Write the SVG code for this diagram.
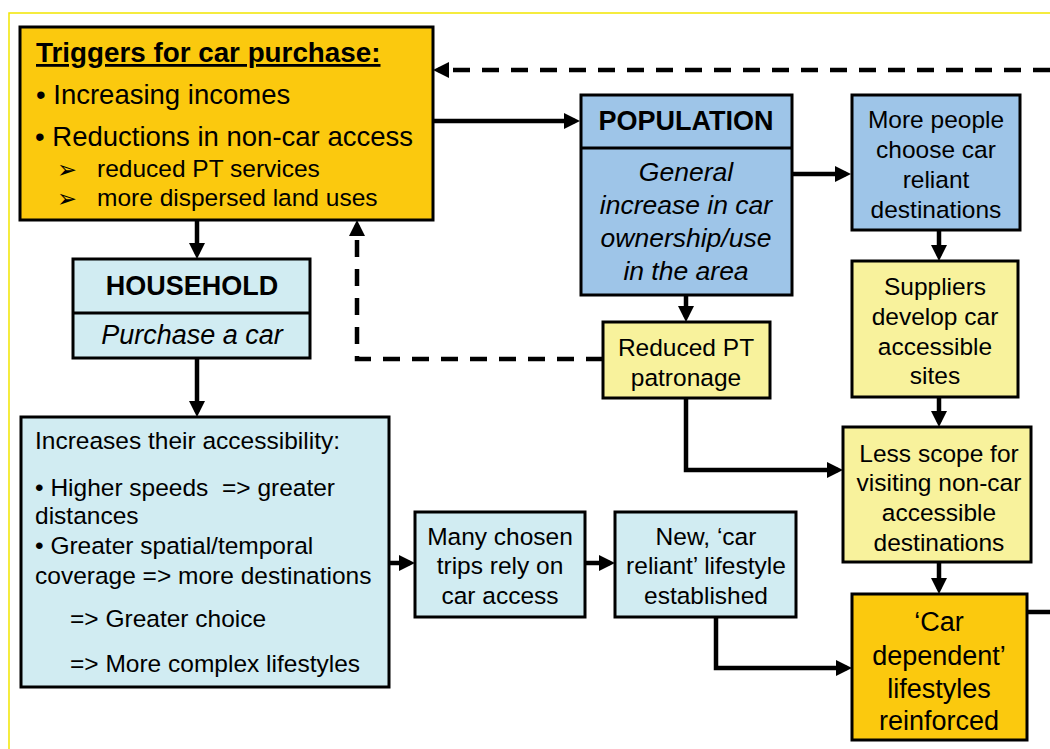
<svg xmlns="http://www.w3.org/2000/svg" width="1050" height="749" viewBox="0 0 1050 749">
<style>
text{font-family:"Liberation Sans",Arial,sans-serif;fill:#000}
.box{stroke:#000;stroke-width:3}
.gold{fill:#FBC90E}
.lb{fill:#D1ECF2}
.blue{fill:#9EC5E8}
.yel{fill:#F8F29C}
.c{text-anchor:middle}
.s24{font-size:24.5px}
.b27{font-size:27px;font-weight:bold}
.i26{font-size:26.5px;font-style:italic}
.conn{fill:none;stroke:#000;stroke-width:4.5}
.dash{stroke-dasharray:17 12}
.tri{font-family:"DejaVu Sans",sans-serif;font-size:17px}
</style>
<defs>
<marker id="arr" markerUnits="userSpaceOnUse" markerWidth="18" markerHeight="18" refX="11" refY="8" orient="auto">
<path d="M0,0 L16,8 L0,16 z" fill="#000"/>
</marker>
</defs>
<rect width="1050" height="749" fill="#fff"/>
<path d="M9,749 V13 H1050" fill="none" stroke="#F2E600" stroke-width="1.5"/>

<g id="connectors">
<path class="conn" d="M433,121 H575" marker-end="url(#arr)"/>
<path class="conn" d="M197,220 V254" marker-end="url(#arr)"/>
<path class="conn" d="M197,358 V412" marker-end="url(#arr)"/>
<path class="conn" d="M389,563 H410" marker-end="url(#arr)"/>
<path class="conn" d="M585,563 H610" marker-end="url(#arr)"/>
<path class="conn" d="M716,617 V668 H847" marker-end="url(#arr)"/>
<path class="conn" d="M792,174 H846" marker-end="url(#arr)"/>
<path class="conn" d="M939,230 V256" marker-end="url(#arr)"/>
<path class="conn" d="M939,397 V422" marker-end="url(#arr)"/>
<path class="conn" d="M939,562 V589" marker-end="url(#arr)"/>
<path class="conn" d="M686,295 V317" marker-end="url(#arr)"/>
<path class="conn" d="M686,398 V470 H838" marker-end="url(#arr)"/>
<path class="conn dash" d="M603,359 H357 V225" marker-end="url(#arr)"/>
<path class="conn" d="M1027,612 H1050"/>
<path class="conn dash" d="M1050,70 H438" marker-end="url(#arr)"/>
</g>

<g id="triggers">
<rect class="box gold" x="20" y="27" width="413" height="193"/>
<text x="36" y="62" font-size="27.8" font-weight="bold" text-decoration="underline">Triggers for car purchase:</text>
<text x="36" y="104" font-size="27.5">• Increasing incomes</text>
<text x="35" y="146" font-size="27.5">• Reductions in non-car access</text>
<text class="tri" transform="translate(57,178) scale(1.4,1.45)">➢</text>
<text x="97" y="177" font-size="24.5">reduced PT services</text>
<text class="tri" transform="translate(57,207) scale(1.4,1.45)">➢</text>
<text x="97" y="206" font-size="24.5">more dispersed land uses</text>
</g>

<g id="household">
<rect class="box lb" x="73" y="259" width="237" height="99"/>
<line x1="73" y1="313" x2="310" y2="313" stroke="#000" stroke-width="3"/>
<text x="192" y="295" class="b27 c">HOUSEHOLD</text>
<text x="192" y="344" class="c" font-size="27" font-style="italic">Purchase a car</text>
</g>

<g id="accessibility">
<rect class="box lb" x="21" y="417" width="368" height="270"/>
<text x="35" y="449" class="s24">Increases their accessibility:</text>
<text x="35" y="496" class="s24" xml:space="preserve">• Higher speeds  =&gt; greater</text>
<text x="35" y="524" class="s24">distances</text>
<text x="35" y="554" class="s24">• Greater spatial/temporal</text>
<text x="35" y="584" class="s24">coverage =&gt; more destinations</text>
<text x="70" y="627" class="s24">=&gt; Greater choice</text>
<text x="70" y="672" class="s24">=&gt; More complex lifestyles</text>
</g>

<g id="population">
<rect class="box blue" x="581" y="95" width="211" height="200"/>
<line x1="581" y1="148" x2="792" y2="148" stroke="#000" stroke-width="3"/>
<text x="686" y="130" class="b27 c">POPULATION</text>
<text x="686" y="181" class="i26 c">General</text>
<text x="686" y="214" class="i26 c">increase in car</text>
<text x="686" y="247" class="i26 c">ownership/use</text>
<text x="686" y="280" class="i26 c">in the area</text>
</g>

<g id="more-people">
<rect class="box blue" x="852" y="95" width="168" height="135"/>
<text x="936" y="128" class="s24 c">More people</text>
<text x="936" y="158" class="s24 c">choose car</text>
<text x="936" y="188" class="s24 c">reliant</text>
<text x="936" y="218" class="s24 c">destinations</text>
</g>

<g id="suppliers">
<rect class="box yel" x="852" y="261" width="166" height="136"/>
<text x="935" y="295" class="s24 c">Suppliers</text>
<text x="935" y="325" class="s24 c">develop car</text>
<text x="935" y="355" class="s24 c">accessible</text>
<text x="935" y="384" class="s24 c">sites</text>
</g>

<g id="less-scope">
<rect class="box yel" x="843" y="427" width="188" height="135"/>
<text x="939" y="462" class="s24 c">Less scope for</text>
<text x="939" y="491" class="s24 c">visiting non-car</text>
<text x="939" y="521" class="s24 c">accessible</text>
<text x="939" y="551" class="s24 c">destinations</text>
</g>

<g id="car-dependent">
<rect class="box gold" x="852" y="594" width="175" height="146"/>
<text x="939" y="631" class="c" font-size="27">‘Car</text>
<text x="939" y="665" class="c" font-size="27">dependent’</text>
<text x="939" y="698" class="c" font-size="27">lifestyles</text>
<text x="939" y="730" class="c" font-size="27">reinforced</text>
</g>

<g id="reduced-pt">
<rect class="box yel" x="603" y="322" width="167" height="76"/>
<text x="686" y="356" class="s24 c">Reduced PT</text>
<text x="686" y="386" class="s24 c">patronage</text>
</g>

<g id="many-chosen">
<rect class="box lb" x="415" y="512" width="170" height="105"/>
<text x="500" y="545" class="s24 c">Many chosen</text>
<text x="500" y="574" class="s24 c">trips rely on</text>
<text x="500" y="604" class="s24 c">car access</text>
</g>

<g id="new-lifestyle">
<rect class="box lb" x="615" y="512" width="181" height="105"/>
<text x="706" y="545" class="s24 c">New, ‘car</text>
<text x="706" y="574" class="s24 c">reliant’ lifestyle</text>
<text x="706" y="604" class="s24 c">established</text>
</g>
</svg>
